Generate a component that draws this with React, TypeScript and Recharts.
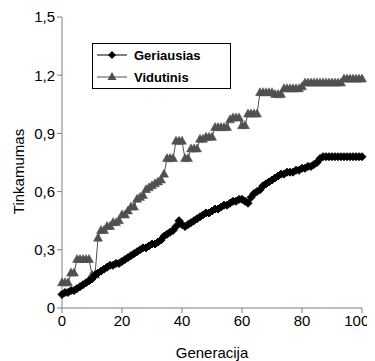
import { LineChart, Line, XAxis, YAxis } from 'recharts'

// ---------------------------------------------------------------------------
// Data: fitness per generation (0..100)
// ---------------------------------------------------------------------------

const geriausias = [
  0.07, 0.08, 0.08, 0.09, 0.09, 0.10, 0.11, 0.12, 0.13, 0.14,
  0.15, 0.17, 0.18, 0.19, 0.20, 0.21, 0.22, 0.22, 0.23, 0.23,
  0.24, 0.25, 0.26, 0.27, 0.28, 0.29, 0.30, 0.31, 0.31, 0.32,
  0.33, 0.33, 0.34, 0.35, 0.37, 0.38, 0.39, 0.40, 0.42, 0.45,
  0.43, 0.42, 0.43, 0.44, 0.45, 0.46, 0.47, 0.48, 0.49, 0.49,
  0.50, 0.51, 0.51, 0.52, 0.53, 0.53, 0.54, 0.55, 0.55, 0.56,
  0.56, 0.55, 0.54, 0.57, 0.59, 0.60, 0.61, 0.63, 0.64, 0.65,
  0.66, 0.67, 0.68, 0.69, 0.69, 0.70, 0.70, 0.70, 0.71, 0.71,
  0.72, 0.72, 0.73, 0.73, 0.74, 0.75, 0.77, 0.78, 0.78, 0.78,
  0.78, 0.78, 0.78, 0.78, 0.78, 0.78, 0.78, 0.78, 0.78, 0.78,
  0.78,
]

const vidutinis = [
  0.13, 0.13, 0.13, 0.18, 0.18, 0.25, 0.25, 0.25, 0.25, 0.25,
  0.17, 0.17, 0.36, 0.40, 0.40, 0.42, 0.42, 0.44, 0.44, 0.45,
  0.48, 0.48, 0.50, 0.52, 0.52, 0.56, 0.57, 0.58, 0.61, 0.62,
  0.63, 0.64, 0.65, 0.66, 0.69, 0.77, 0.77, 0.77, 0.86, 0.86,
  0.86, 0.77, 0.77, 0.82, 0.82, 0.82, 0.87, 0.87, 0.88, 0.88,
  0.88, 0.93, 0.93, 0.93, 0.93, 0.93, 0.97, 0.98, 0.98, 0.98,
  0.94, 0.94, 1.00, 1.00, 1.00, 1.00, 1.11, 1.11, 1.11, 1.11,
  1.11, 1.10, 1.10, 1.10, 1.13, 1.13, 1.13, 1.13, 1.13, 1.13,
  1.14, 1.16, 1.16, 1.16, 1.16, 1.16, 1.16, 1.16, 1.16, 1.16,
  1.16, 1.16, 1.16, 1.16, 1.18, 1.18, 1.18, 1.18, 1.18, 1.18,
  1.18,
]

const xTicks = [0, 20, 40, 60, 80, 100]
const yTicks = [0, 0.3, 0.6, 0.9, 1.2, 1.5]

const data = geriausias.map((g, i) => ({ gen: i, geriausias: g, vidutinis: vidutinis[i] }))

const FONT = '"Liberation Sans", Arial, sans-serif'
const GRAY = '#505050'

// ---------------------------------------------------------------------------
// Markers
// ---------------------------------------------------------------------------

function Diamond(props: any) {
  const { cx, cy } = props
  if (cx == null || cy == null) return null
  return (
    <polygon
      points={`${cx},${cy - 4} ${cx + 4},${cy} ${cx},${cy + 4} ${cx - 4},${cy}`}
      fill="#000"
      stroke="#000"
    />
  )
}

function Triangle(props: any) {
  const { cx, cy } = props
  if (cx == null || cy == null) return null
  return (
    <polygon
      points={`${cx},${cy - 5} ${cx + 4.5},${cy + 3} ${cx - 4.5},${cy + 3}`}
      fill={GRAY}
      stroke={GRAY}
      strokeWidth={0.5}
    />
  )
}

// Legend drawn as an overlay so it does not shrink the plot area
function LegendBox() {
  const row = (label: string, color: string, marker: 'd' | 't') => (
    <div style={{ display: 'flex', alignItems: 'center', height: 22 }}>
      <svg width={34} height={12} style={{ marginRight: 5 }}>
        <line x1={2} y1={6} x2={32} y2={6} stroke={color} strokeWidth={1} />
        {marker === 'd'
          ? <polygon points="17,2 21,6 17,10 13,6" fill="#000" />
          : <polygon points="17,1 21.5,9 12.5,9" fill={GRAY} />}
      </svg>
      <span style={{ fontWeight: 700, fontSize: 13 }}>{label}</span>
    </div>
  )
  return (
    <div
      style={{
        position: 'absolute',
        left: 84,
        top: 35,
        border: '1px solid #000',
        background: '#fff',
        padding: '0px 2px 0px 2px',
        fontFamily: FONT,
        color: '#000',
        width: 139,
        boxSizing: 'border-box',
      }}
    >
      {row('Geriausias', '#000', 'd')}
      {row('Vidutinis', GRAY, 't')}
    </div>
  )
}

function YTitle(props: any) {
  const { viewBox } = props
  const cy = viewBox.y + viewBox.height / 2 + 9
  return (
    <text
      x={16}
      y={cy}
      transform={`rotate(-90, 16, ${cy})`}
      textAnchor="middle"
      fontSize={15}
      fill="#000"
      fontFamily={FONT}
    >
      Tinkamumas
    </text>
  )
}

export default function App() {
  return (
    <div style={{ position: 'relative', width: 360, height: 353, fontFamily: FONT }}>
      <LineChart
        width={360}
        height={353}
        data={data}
        margin={{ top: 9, right: 6, left: 0, bottom: 0 }}
      >
        <XAxis
          dataKey="gen"
          type="number"
          domain={[0, 100]}
          ticks={xTicks}
          tick={{ fontSize: 15, fill: '#000', fontFamily: FONT }}
          axisLine={{ stroke: '#808080' }}
          tickLine={{ stroke: '#808080' }}
          tickSize={5}
          height={53}
          label={{
            value: 'Generacija',
            position: 'insideBottom',
            offset: 3,
            fontSize: 15,
            fill: '#000',
            fontFamily: FONT,
          }}
        />
        <YAxis
          type="number"
          domain={[0, 1.5]}
          ticks={yTicks}
          tickFormatter={(v: number) => (v === 0 ? '0' : v.toFixed(1).replace('.', ','))}
          tick={{ fontSize: 15, fill: '#000', fontFamily: FONT }}
          axisLine={{ stroke: '#808080' }}
          tickLine={{ stroke: '#808080' }}
          tickSize={5}
          width={54}
          label={<YTitle />}
        />
        <Line
          type="linear"
          dataKey="vidutinis"
          stroke={GRAY}
          strokeWidth={1}
          dot={<Triangle />}
          isAnimationActive={false}
        />
        <Line
          type="linear"
          dataKey="geriausias"
          stroke="#000"
          strokeWidth={1}
          dot={<Diamond />}
          isAnimationActive={false}
        />
      </LineChart>
      <LegendBox />
    </div>
  )
}
